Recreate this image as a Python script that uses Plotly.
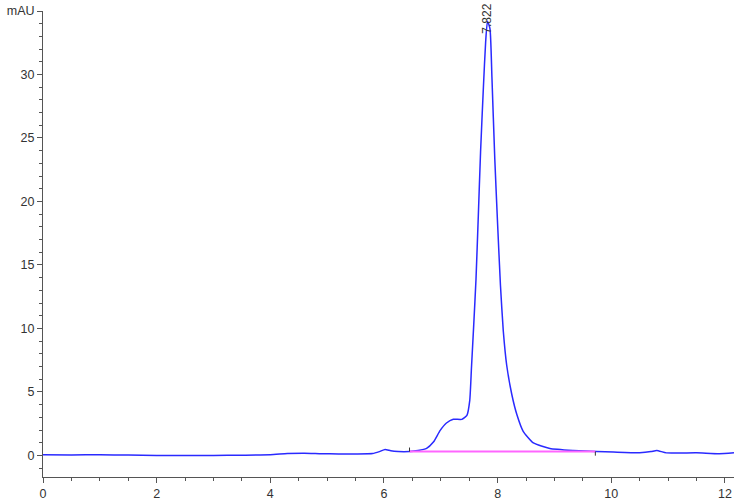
import plotly.graph_objects as go

# Chromatogram trace (time in min, signal in mAU)
time_min = [0.0, 0.5, 1.0, 1.5, 2.0, 2.5, 3.0, 3.5, 4.0, 4.3, 4.6, 4.9, 5.2, 5.5, 5.8,
            5.92, 6.02, 6.12, 6.25, 6.45, 6.6, 6.75, 6.87, 6.99, 7.10, 7.22, 7.37,
            7.46, 7.51, 7.54, 7.58, 7.62, 7.66, 7.70, 7.75, 7.79, 7.822, 7.866,
            7.90, 7.95, 8.00, 8.05, 8.10, 8.16, 8.25, 8.34, 8.45, 8.63, 8.92,
            9.33, 9.74, 10.04, 10.5, 10.7, 10.8, 10.97, 11.5, 11.9, 12.16]
signal_mau = [0.05, 0.04, 0.05, 0.03, 0.0, 0.0, 0.0, 0.02, 0.05, 0.15, 0.18, 0.14, 0.12, 0.12, 0.15,
              0.3, 0.47, 0.36, 0.3, 0.30, 0.38, 0.55, 1.05, 1.97, 2.55, 2.84, 2.84,
              3.16, 4.34, 6.9, 10.3, 13.9, 18.8, 23.9, 29.0, 32.6, 34.2, 33.6,
              29.8, 23.4, 18.2, 13.4, 9.8, 7.1, 4.8, 3.2, 1.9, 0.98, 0.55,
              0.39, 0.30, 0.26, 0.21, 0.3, 0.39, 0.2, 0.2, 0.13, 0.2]

# Integration baseline
baseline_x = [6.45, 9.72]
baseline_y = [0.30, 0.30]

# Peak label
peak_time = 7.822
peak_height = 34.2
peak_label = "7.822"

# Axis ticks
x_ticks = [0, 2, 4, 6, 8, 10, 12]
y_ticks = [0, 5, 10, 15, 20, 25, 30, 35]
y_ticktext = ["0", "5", "10", "15", "20", "25", "30", "mAU"]

fig = go.Figure()
fig.add_trace(go.Scatter(x=time_min, y=signal_mau, mode="lines",
                         line=dict(color="#2a2aff", width=1.5, shape="spline", smoothing=0.5),
                         hoverinfo="skip", showlegend=False))
fig.add_trace(go.Scatter(x=baseline_x, y=baseline_y, mode="lines",
                         line=dict(color="#ff66ff", width=2),
                         hoverinfo="skip", showlegend=False))

# small ticks at baseline start (up) and end (down)
fig.add_shape(type="line", xref="x", yref="y", x0=baseline_x[0], x1=baseline_x[0],
              y0=baseline_y[0], y1=baseline_y[0] + 0.32, line=dict(color="#333", width=1))
fig.add_shape(type="line", xref="x", yref="y", x0=baseline_x[1], x1=baseline_x[1],
              y0=baseline_y[1], y1=baseline_y[1] - 0.32, line=dict(color="#333", width=1))

fig.add_annotation(x=peak_time, y=peak_height, text=peak_label, textangle=-90,
                   showarrow=False, xanchor="center", yanchor="middle", yshift=3,
                   font=dict(family="Liberation Sans, Arial", size=12, color="#333"))

axis_font = dict(family="Liberation Sans, Arial", size=12.5, color="#333")
fig.update_xaxes(range=[0, 12.16], tickvals=x_ticks, showline=True, linecolor="#555",
                 linewidth=1, ticks="outside", ticklen=5, tickcolor="#555",
                 minor=dict(ticks="outside", ticklen=3, dtick=0.5, tickcolor="#555"),
                 showgrid=False, zeroline=False, tickfont=axis_font)
fig.update_yaxes(range=[-1.7, 35], tickvals=y_ticks, ticktext=y_ticktext, showline=True,
                 linecolor="#555", linewidth=1, ticks="outside", ticklen=5, tickcolor="#555",
                 minor=dict(ticks="outside", ticklen=3, dtick=1, tickcolor="#555"),
                 showgrid=False, zeroline=False, tickfont=axis_font)
fig.update_layout(width=734, height=500, margin=dict(l=43, r=0, t=11, b=23, autoexpand=False),
                  plot_bgcolor="white", paper_bgcolor="white")

fig.write_html("out.html", config={"displayModeBar": False},
               post_script="document.body.style.margin='0';document.body.style.overflow='hidden';")
